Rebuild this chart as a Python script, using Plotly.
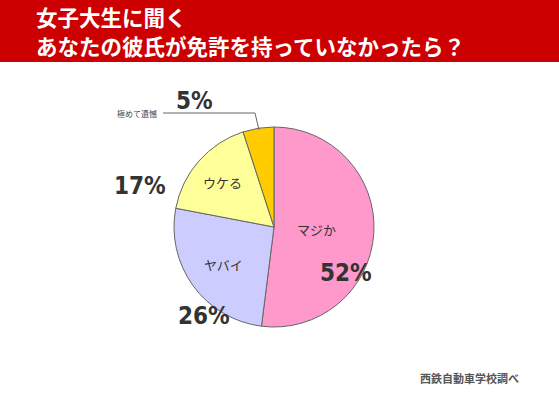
import numpy as np
import plotly.graph_objects as go

W, H = 559, 400

# data
labels = ["マジか", "ヤバイ", "ウケる", "極めて遺憾"]
values = [52, 26, 17, 5]
colors = ["#ff99cc", "#ccccff", "#ffff99", "#ffcc00"]
title_lines = ["女子大生に聞く", "あなたの彼氏が免許を持っていなかったら？"]
source = "西鉄自動車学校調べ"

# pie geometry in pixels
cx, cy, R = 274, 227, 100


def px(x):
    return x / W


def py(y):
    return 1 - y / H


fig = go.Figure(go.Pie(
    labels=labels, values=values, sort=False, direction="clockwise", rotation=0,
    marker=dict(colors=colors, line=dict(color="#666666", width=1)),
    textinfo="none", hoverinfo="label+percent", showlegend=False,
    domain=dict(x=[px(cx - R), px(cx + R)], y=[py(cy + R), py(cy - R)]),
))

# inner labels, placed at the middle angle of each slice
cum = np.cumsum([0] + values)
mid = (cum[:-1] + cum[1:]) / 2 / sum(values) * 2 * np.pi
rad = [0.43, 0.63, 0.68]
ann = []
for i in range(3):
    x = cx + rad[i] * R * np.sin(mid[i])
    y = cy - rad[i] * R * np.cos(mid[i])
    ann.append(dict(x=px(x), y=py(y), text=labels[i], showarrow=False,
                    xanchor="center", yanchor="middle",
                    font=dict(size=13, color="#333333", family="Noto Sans CJK JP")))

# percentages outside
pct_pos = [(346, 273), (204, 316), (140, 186), (194, 101)]
for v, (x, y) in zip(values, pct_pos):
    ann.append(dict(x=px(x), y=py(y), text=f"<b>{v}%</b>", showarrow=False,
                    xanchor="center", yanchor="middle",
                    font=dict(size=24, color="#333333",
                              family="DejaVu Sans Condensed, Liberation Sans Narrow, Roboto")))

# small label for the gold slice
ann.append(dict(x=px(137), y=py(114), text=labels[3], showarrow=False,
                xanchor="center", yanchor="middle",
                font=dict(size=8, color="#444444", family="Noto Sans CJK JP")))

# title
for i, t in enumerate(title_lines):
    ann.append(dict(x=px(34), y=py(17 + 28 * i), xanchor="left", yanchor="middle",
                    text=f"<b>{t}</b>", showarrow=False,
                    font=dict(size=21.5, color="white", family="Noto Sans CJK JP")))

ann.append(dict(x=px(418), y=py(378), xanchor="left", yanchor="middle",
                text=f"<b>{source}</b>", showarrow=False,
                font=dict(size=11, color="#555555", family="Noto Sans CJK JP")))

shapes = [
    dict(type="rect", xref="paper", yref="paper", x0=0, x1=1, y0=py(62), y1=1,
         fillcolor="#cc0000", line=dict(width=0), layer="below"),
    dict(type="path", xref="paper", yref="paper",
         path=f"M {px(163)} {py(113)} L {px(255)} {py(113)} L {px(259)} {py(130)}",
         line=dict(color="#666666", width=1)),
]

fig.update_layout(
    width=W, height=H, margin=dict(l=0, r=0, t=0, b=0),
    paper_bgcolor="white", plot_bgcolor="white",
    annotations=ann, shapes=shapes,
)

fig.write_html("out.html", config={"displayModeBar": False},
               post_script="document.body.style.margin='0';")
